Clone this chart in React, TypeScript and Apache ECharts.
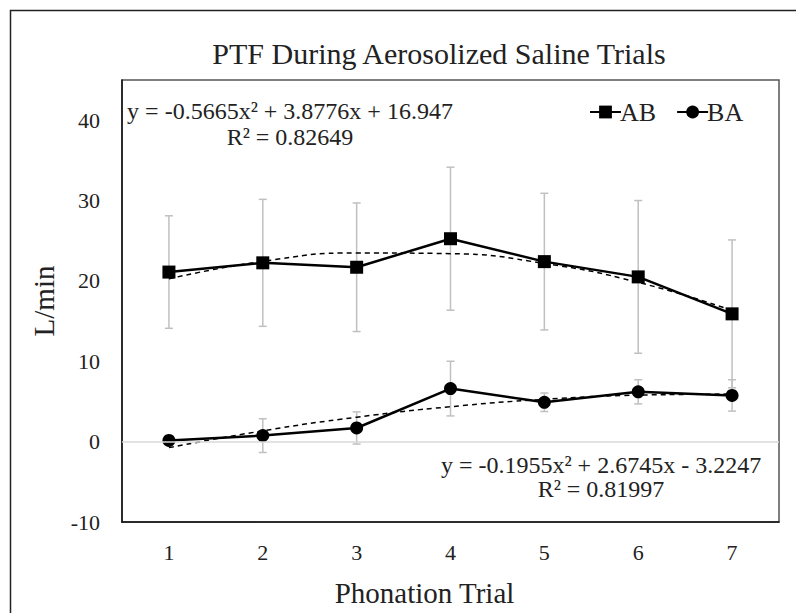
import React, { useEffect, useRef } from "react";
import * as echarts from "echarts";

const categories = ["1", "2", "3", "4", "5", "6", "7"];
const abValues = [21.1, 22.25, 21.7, 25.25, 22.4, 20.5, 15.9];
const abErrors = [7.0, 7.9, 8.0, 8.9, 8.5, 9.5, 9.2];
const baValues = [0.15, 0.75, 1.7, 6.6, 4.9, 6.2, 5.75];
const baErrors = [0.4, 2.1, 2.0, 3.4, 1.15, 1.5, 1.95];
const abTrend = [20.258, 22.436, 23.481, 23.393, 22.172, 19.818, 16.331];
const baTrend = [-0.746, 1.342, 3.039, 4.345, 5.26, 5.784, 5.917];
const abEquation = ["y = -0.5665x² + 3.8776x + 16.947", "R² = 0.82649"];
const baEquation = ["y = -0.1955x² + 2.6745x - 3.2247", "R² = 0.81997"];

const FONT = "'Liberation Serif', 'Times New Roman', serif";

export default function App() {
  const ref = useRef<HTMLDivElement>(null);
  useEffect(() => {
    if (!ref.current) return;
    const chart = echarts.init(ref.current, undefined, { renderer: "svg" });
    const errData = (vals: number[], errs: number[]) =>
      vals.map((v, i) => [i, v - errs[i], v + errs[i]]);
    const renderErr = (params: any, api: any) => {
      const x = api.value(0);
      const pLo = api.coord([x, api.value(1)]);
      const pHi = api.coord([x, api.value(2)]);
      const w = 4;
      const style = { stroke: "#c0c0c0", lineWidth: 1.5 };
      return {
        type: "group",
        children: [
          { type: "line", shape: { x1: pHi[0], y1: pHi[1], x2: pLo[0], y2: pLo[1] }, style },
          { type: "line", shape: { x1: pHi[0] - w, y1: pHi[1], x2: pHi[0] + w, y2: pHi[1] }, style },
          { type: "line", shape: { x1: pLo[0] - w, y1: pLo[1], x2: pLo[0] + w, y2: pLo[1] }, style },
        ],
      };
    };
    chart.setOption({
      animation: false,
      backgroundColor: "#fff",
      textStyle: { fontFamily: FONT },
      title: {
        text: "PTF During Aerosolized Saline Trials",
        left: 434,
        top: 33,
        textAlign: "center",
        textStyle: { fontFamily: FONT, fontSize: 30, fontWeight: "normal", color: "#222" },
      },
      legend: {
        data: ["AB", "BA"],
        left: 584,
        top: 94,
        itemWidth: 31,
        itemHeight: 16,
        itemGap: 20,
        textStyle: { fontFamily: FONT, fontSize: 26, color: "#222", padding: [0, 0, 0, -6] },
      },
      grid: { left: 122, top: 80, right: 17, bottom: 91, show: true, borderColor: "#555", borderWidth: 1.5, outerBoundsMode: "none" },
      xAxis: {
        type: "category",
        data: categories,
        boundaryGap: true,
        name: "Phonation Trial",
        nameLocation: "middle",
        nameGap: 56,
        nameTextStyle: { fontFamily: FONT, fontSize: 29, color: "#222", padding: [0, 52, 0, 0] },
        axisLine: { onZero: false, lineStyle: { color: "#111", width: 1.5 } },
        axisTick: { show: false },
        axisLabel: { fontFamily: FONT, fontSize: 22, color: "#222", margin: 19 },
        splitLine: { show: false },
      },
      yAxis: {
        type: "value",
        min: -10,
        max: 45,
        interval: 10,
        name: "L/min",
        nameLocation: "middle",
        nameGap: 64,
        nameTextStyle: { fontFamily: FONT, fontSize: 29, color: "#222" },
        axisLine: { show: true, lineStyle: { color: "#111", width: 1.5 } },
        axisTick: { show: false },
        axisLabel: { fontFamily: FONT, fontSize: 22, color: "#222", margin: 22, showMaxLabel: false },
        splitLine: { show: false },
      },
      series: [
        {
          name: "AB err",
          type: "custom",
          renderItem: renderErr,
          encode: { x: 0, y: [1, 2] },
          data: errData(abValues, abErrors),
          z: 1,
          silent: true,
          markLine: {
            silent: true,
            symbol: "none",
            label: { show: false },
            lineStyle: { color: "#d9d9d9", type: "solid", width: 1.5 },
            data: [{ yAxis: 0 }],
          },
        },
        {
          name: "BA err",
          type: "custom",
          renderItem: renderErr,
          encode: { x: 0, y: [1, 2] },
          data: errData(baValues, baErrors),
          z: 1,
          silent: true,
        },
        {
          name: "AB trend",
          type: "line",
          data: abTrend,
          smooth: true,
          symbol: "none",
          lineStyle: { color: "#000", width: 1.5, type: [5, 4] },
          z: 3,
          silent: true,
        },
        {
          name: "BA trend",
          type: "line",
          data: baTrend,
          smooth: true,
          symbol: "none",
          lineStyle: { color: "#000", width: 1.5, type: [5, 4] },
          z: 3,
          silent: true,
        },
        {
          name: "AB",
          type: "line",
          data: abValues,
          symbol: "rect",
          symbolSize: 13,
          itemStyle: { color: "#000" },
          lineStyle: { color: "#000", width: 2.5 },
          z: 2,
        },
        {
          name: "BA",
          type: "line",
          data: baValues,
          symbol: "circle",
          symbolSize: 13,
          itemStyle: { color: "#000" },
          lineStyle: { color: "#000", width: 2.5 },
          z: 2,
        },
      ],
      graphic: [
        {
          type: "rect",
          shape: { x: 10.5, y: 10.5, width: 820, height: 700 },
          style: { fill: "none", stroke: "#222", lineWidth: 1.5 },
          silent: true,
        },
        {
          type: "text",
          x: 290,
          y: 111,
          style: { text: abEquation[0], font: `24px ${FONT}`, fill: "#222", align: "center", verticalAlign: "middle" },
        },
        {
          type: "text",
          x: 290,
          y: 137,
          style: { text: abEquation[1], font: `24px ${FONT}`, fill: "#222", align: "center", verticalAlign: "middle" },
        },
        {
          type: "text",
          x: 601,
          y: 465,
          style: { text: baEquation[0], font: `24px ${FONT}`, fill: "#222", align: "center", verticalAlign: "middle" },
        },
        {
          type: "text",
          x: 601,
          y: 489,
          style: { text: baEquation[1], font: `24px ${FONT}`, fill: "#222", align: "center", verticalAlign: "middle" },
        },
      ],
    });
    return () => chart.dispose();
  }, []);
  return (
    <div
      ref={ref}
      style={{ position: "absolute", left: 0, top: 0, width: 796, height: 613 }}
    />
  );
}
